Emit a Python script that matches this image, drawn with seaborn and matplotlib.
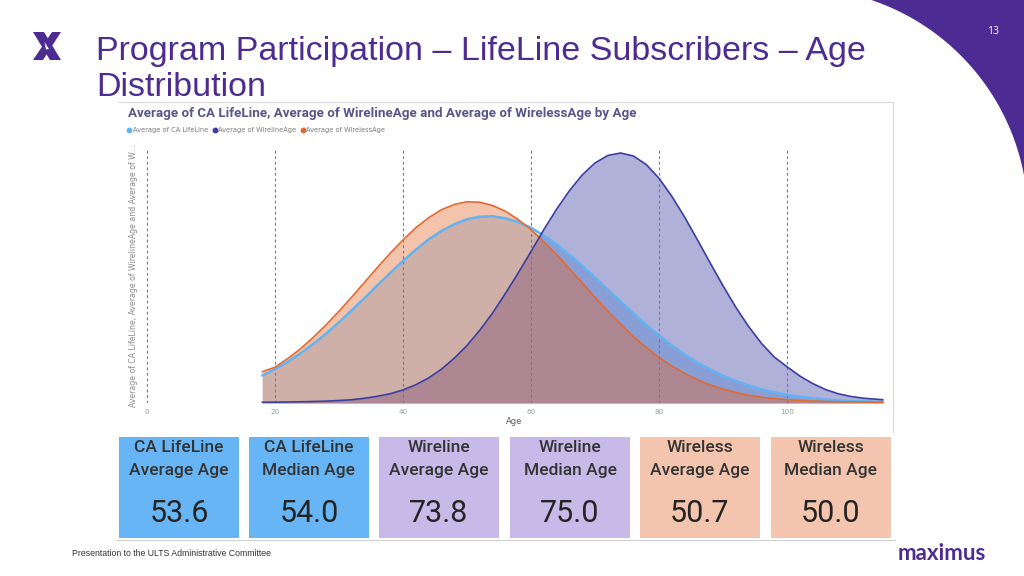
import numpy as np
import pandas as pd
import matplotlib
matplotlib.use("Agg")
import matplotlib.pyplot as plt
from matplotlib.patches import Rectangle, Polygon
from matplotlib.lines import Line2D
import seaborn as sns

# ---------------- data ----------------
ages = [18, 20, 22, 24, 26, 28, 30, 32, 34, 36, 38, 40, 42, 44, 46, 48, 50,
        52, 54, 56, 58, 60, 62, 64, 66, 68, 70, 72, 74, 76, 78, 80, 82, 84,
        86, 88, 90, 92, 94, 96, 98, 100, 102, 104, 106, 108, 110, 112, 114, 115]
ca_lifeline = [11.0, 13.5, 16.5, 19.9, 23.7, 27.8, 32.3, 37.1, 42.0, 47.1,
               52.0, 56.8, 61.3, 65.4, 68.8, 71.5, 73.5, 74.5, 74.7, 73.9,
               72.4, 70.1, 67.0, 63.4, 59.3, 54.9, 50.2, 45.3, 40.5, 35.8,
               31.2, 27.0, 23.0, 19.4, 16.2, 13.4, 10.9, 8.8, 7.0, 5.5,
               4.3, 3.3, 2.5, 1.9, 1.4, 1.0, 0.8, 0.6, 0.45, 0.4]
wireline_age = [0.3, 0.35, 0.4, 0.5, 0.6, 0.75, 1.0, 1.3, 1.9, 2.7,
                3.7, 5.2, 7.3, 10.0, 13.5, 17.9, 23.0, 29.1, 36.0, 43.8,
                52.0, 60.6, 69.3, 77.5, 84.9, 91.2, 96.0, 99.0, 100.0, 98.8,
                95.4, 89.9, 82.7, 74.4, 65.3, 56.0, 46.9, 38.3, 30.6, 23.9,
                18.4, 14.5, 10.8, 7.8, 5.4, 3.7, 2.6, 1.9, 1.5, 1.3]
wireless_age = [12.5, 14.3, 17.8, 21.7, 26.3, 31.3, 36.7, 42.4, 48.3, 54.2,
                59.9, 65.2, 70.1, 74.1, 77.3, 79.4, 80.5, 80.3, 79.0, 76.7,
                73.4, 69.3, 64.5, 59.3, 53.7, 48.0, 42.3, 36.7, 31.5, 26.6,
                22.2, 18.2, 14.8, 11.8, 9.3, 7.2, 5.6, 4.2, 3.1, 2.3,
                1.7, 1.3, 1.0, 0.8, 0.6, 0.5, 0.45, 0.4, 0.35, 0.3]

series_names = ["Average of CA LifeLine", "Average of WirelineAge",
                "Average of WirelessAge"]
series_colors = ["#62B3F2", "#3A3DA2", "#E4692F"]
x_ticks = [0, 20, 40, 60, 80, 100]

kpi_titles = ["CA LifeLine\nAverage Age", "CA LifeLine\nMedian Age",
              "Wireline\nAverage Age", "Wireline\nMedian Age",
              "Wireless\nAverage Age", "Wireless\nMedian Age"]
kpi_values = ["53.6", "54.0", "73.8", "75.0", "50.7", "50.0"]
kpi_colors = ["#68B5F5", "#68B5F5", "#C7B9E8", "#C7B9E8", "#F3C5AE", "#F3C5AE"]

PURPLE = "#4C2C92"

# ---------------- figure ----------------
sns.set_theme(style="white")
plt.rcParams["font.family"] = ["DejaVu Sans"]

W, H = 1024, 576
fig = plt.figure(figsize=(10.24, 5.76), dpi=100)
fig.patch.set_facecolor("white")

bg = fig.add_axes([0, 0, 1, 1])
bg.set_xlim(0, W)
bg.set_ylim(H, 0)
bg.axis("off")
bg.set_zorder(0)

# purple corner shape
cx, cy, R = 798.0, 218.0, 230.0
t1 = np.arcsin(cy / R)
t2 = np.arccos((W - cx) / R)
tt = np.linspace(t1, t2, 80)
arc = np.column_stack([cx + R * np.cos(tt), cy - R * np.sin(tt)])
corner = np.vstack([arc, [[W, 0]]])
bg.add_patch(Polygon(corner, closed=True, facecolor=PURPLE, edgecolor="none"))
bg.text(993, 32, "13", color="white", fontsize=7.5, ha="center", va="center",
        family="Open Sans")

# X logo
bg.add_patch(Polygon([[33, 32], [44, 32], [61, 60], [50, 60]], closed=True,
                     facecolor=PURPLE, edgecolor="none"))
bg.add_patch(Polygon([[52, 32], [61, 32], [43, 60], [33, 60]], closed=True,
                     facecolor=PURPLE, edgecolor="none"))
bg.add_patch(Polygon([[44.5, 42], [49, 49], [46, 49.5]], closed=True,
                     facecolor="white", edgecolor="none"))

# slide title
bg.text(96, 60, "Program Participation \u2013 LifeLine Subscribers \u2013 Age",
        color=PURPLE, fontsize=24.5, family="Liberation Sans", va="baseline",
        ha="left")
bg.text(96, 96, "Distribution", color=PURPLE, fontsize=24.5,
        family="Liberation Sans", va="baseline", ha="left")

# screenshot frame
bg.plot([118, 893], [102, 102], color="#d9d9d9", lw=0.8)
bg.plot([893, 893], [102, 432], color="#d9d9d9", lw=0.8)
bg.plot([116, 895], [540, 540], color="#d0d0d0", lw=0.8)

# chart title + y label + x label
bg.text(128, 113, "Average of CA LifeLine, Average of WirelineAge and Average of WirelessAge by Age",
        color="#56568a", fontsize=9.6, fontweight="bold", family="Roboto",
        va="center", ha="left")
bg.text(133, 276, "Average of CA LifeLine, Average of WirelineAge and Average of W...",
        color="#8a8a8a", fontsize=5.6, rotation=90, va="center", ha="center")
bg.text(514, 422, "Age", color="#5a5a5a", fontsize=6, va="center", ha="center")

# ---------------- main chart ----------------
ax = fig.add_axes([140.6 / W, (H - 403) / H, 748.8 / W, 255 / H])
ax.set_zorder(1)
ax.patch.set_alpha(0)

df = pd.DataFrame({
    "Age": ages * 3,
    "Value": ca_lifeline + wireline_age + wireless_age,
    "Series": ([series_names[0]] * len(ages) + [series_names[1]] * len(ages)
               + [series_names[2]] * len(ages)),
})
color_map = dict(zip(series_names, series_colors))

# fills (lifeline, wireline, wireless on top)
for name in series_names:
    sub = df[df["Series"] == name]
    ax.fill_between(sub["Age"], 0, sub["Value"], color=color_map[name],
                    alpha=0.4, lw=0, zorder=1)

line_widths = {series_names[0]: 1.8, series_names[1]: 1.2, series_names[2]: 1.2}
for name in [series_names[0], series_names[2], series_names[1]]:
    sub = df[df["Series"] == name]
    sns.lineplot(data=sub, x="Age", y="Value", color=color_map[name],
                 lw=line_widths[name], ax=ax, zorder=3, legend=False)

ax.set_xlim(-1, 116)
ax.set_ylim(0, 102)
ax.set_xticks(x_ticks)
ax.set_xticklabels([str(v) for v in x_ticks])
ax.set_yticks([])
ax.set_xlabel("")
ax.set_ylabel("")
ax.xaxis.grid(True, linestyle=(0, (2.5, 2.5)), color="#6F74B8", lw=0.8)
ax.yaxis.grid(False)
ax.set_axisbelow(False)
ax.tick_params(axis="x", length=0, labelsize=5.2, labelcolor="#9a9a9a", pad=4)
for s in ax.spines.values():
    s.set_visible(False)

handles = [Line2D([], [], marker="o", ls="", color=c, markersize=3.2)
           for c in series_colors]
fig.legend(handles, series_names, loc="upper left",
           bbox_to_anchor=(126 / W, 1 - 127 / H), ncol=3, frameon=False,
           fontsize=4.8, handletextpad=0.0, columnspacing=0.5,
           handlelength=1.0, borderaxespad=0, borderpad=0,
           labelcolor="#7a7a7a")

# ---------------- KPI tiles ----------------
box_x = [119, 249, 379, 510, 640, 771]
box_w = 120
for x0, title, val, col in zip(box_x, kpi_titles, kpi_values, kpi_colors):
    bg.add_patch(Rectangle((x0, 437), box_w, 101, facecolor=col, edgecolor="none"))
    l1, l2 = title.split("\n")
    xc = x0 + box_w / 2
    bg.text(xc, 448, l1, ha="center", va="center", fontsize=12.5,
            family="Roboto", fontweight="medium", color="#333333")
    bg.text(xc, 470, l2, ha="center", va="center", fontsize=12.5,
            family="Roboto", fontweight="medium", color="#333333")
    bg.text(xc, 513, val, ha="center", va="center", fontsize=22,
            family="Roboto", color="#252423")

# ---------------- footer ----------------
bg.text(72, 553, "Presentation to the ULTS Administrative Committee",
        fontsize=6.3, family="Liberation Sans", color="#333333",
        ha="left", va="center")
bg.text(942, 553, "maximus", fontsize=16, family="Lato", fontweight="bold",
        color=PURPLE, ha="center", va="center")

fig.savefig("out.png", dpi=100, facecolor="white")
